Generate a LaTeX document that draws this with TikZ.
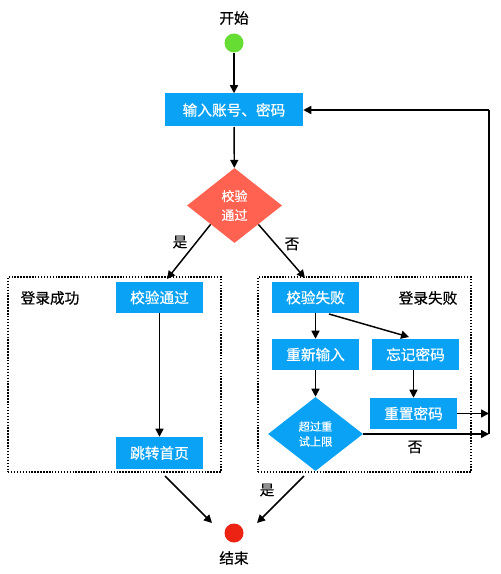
\documentclass[tikz,border=0pt]{standalone}
\usepackage{fontspec}
\setmainfont[FakeBold=0.5,AutoFakeBold=0.5]{Noto Sans CJK SC}
\usetikzlibrary{shapes.geometric,arrows.meta}
\definecolor{boxblue}{RGB}{10,162,245}
\definecolor{decred}{RGB}{255,98,80}
\definecolor{startgreen}{RGB}{102,221,51}
\definecolor{endred}{RGB}{236,34,18}
\tikzset{
  procbox/.style={rectangle, fill=boxblue, text=white, inner sep=0pt,
    minimum width=65.25pt, minimum height=23.25pt, font=\fontsize{11}{13}\selectfont},
  decbox/.style={diamond, aspect=1.27, inner sep=0pt, text=white, align=center},
  dot/.style={circle, inner sep=0pt, minimum size=14.25pt},
  lbl/.style={inner sep=0pt, font=\fontsize{11}{13}\selectfont\bfseries},
  grp/.style={rectangle, draw=black, line width=1.1pt, dash pattern=on 1.1pt off 1.1pt,
    minimum width=159.75pt, minimum height=146.25pt, inner sep=0pt},
  conn/.style={line width=1.1pt, -{Triangle[length=6pt,width=6pt]}},
  plain/.style={line width=1.1pt},
}
\begin{document}
\begin{tikzpicture}[x=0.75pt,y=-0.75pt]
\useasboundingbox (0,0) rectangle (500,574);
% groups
\node[grp] (grpL) at (114.5,374.5) {};
\node[grp] (grpR) at (364.5,374.5) {};
\node[lbl] (lblOK) at (50,298) {登录成功};
\node[lbl] (lblFail) at (428,298) {登录失败};
% start
\node[lbl] (startlbl) at (234,18) {开始};
\node[dot, fill=startgreen] (start) at (234,43) {};
\node[procbox, minimum width=103.5pt, minimum height=24.75pt] (input) at (234,110) {输入账号、密码};
\node[decbox, fill=decred, minimum width=71.25pt, minimum height=56.25pt,
  font=\fontsize{9.75}{14.25}\selectfont] (check) at (234.5,205.5) {校验\\通过};
\node[lbl] (yes1) at (180,242) {是};
\node[lbl] (no1) at (292,244) {否};
% left branch
\node[procbox] (okcheck) at (159.5,297.5) {校验通过};
\node[procbox, minimum height=24pt] (home) at (159.5,453) {跳转首页};
% right branch
\node[procbox] (fail) at (315.5,297.5) {校验失败};
\node[procbox] (reinput) at (315.5,354.5) {重新输入};
\node[procbox] (forget) at (415.5,354.5) {忘记密码};
\node[procbox] (reset) at (413.5,413.5) {重置密码};
\node[decbox, fill=boxblue, minimum width=71.25pt, minimum height=55.5pt,
  font=\fontsize{8.4}{11.25}\selectfont] (limit) at (315.5,434) {超过重\\试上限};
\node[lbl] (no2) at (415,447) {否};
\node[lbl] (yes2) at (267,490) {是};
% end
\node[dot, fill=endred] (end) at (234,533) {};
\node[lbl] (endlbl) at (234,558) {结束};
% coordinates
\coordinate (okin) at (167,279);
\coordinate (failin) at (305,278);
\coordinate (homeout) at (165,476);
\coordinate (endinL) at (212,523);
\coordinate (limout) at (304,476);
\coordinate (endinR) at (257,523);
\coordinate (failout) at (329,314);
\coordinate (forgetin) at (409,337);
\coordinate (c1) at (489,413.5);
\coordinate (c2) at (489,434);
\coordinate (c3) at (489,110);
% connectors
\draw[conn] (start) -- (input);
\draw[conn] (input) -- (check);
\draw[conn] (check.south west) -- (okin);
\draw[conn] (check.south east) -- (failin);
\draw[conn] (okcheck) -- (home);
\draw[conn] (homeout) -- (endinL);
\draw[conn] (limout) -- (endinR);
\draw[conn] (fail) -- (reinput);
\draw[conn] (failout) -- (forgetin);
\draw[conn] (reset.north |- forget.south) -- (reset.north);
\draw[conn] (reinput) -- (limit);
\draw[conn] (reset.east) -- (c1);
\draw[conn] (limit.east) -- (c2);
\draw[plain] (c2) -- (c3);
\draw[conn] (c3) -- (input.east);
\end{tikzpicture}
\end{document}
